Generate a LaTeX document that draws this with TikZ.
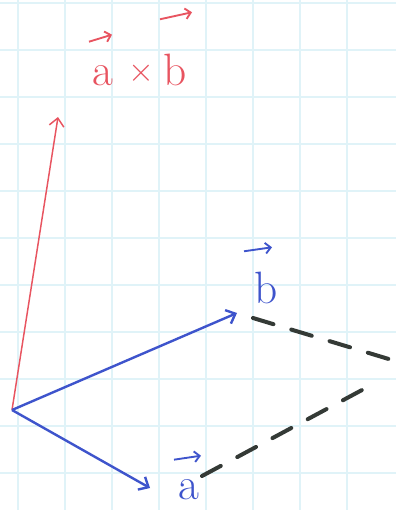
\documentclass[tikz,border=0pt]{standalone}
\usepackage{amsmath, amssymb}
\usepackage{tikz}
\usetikzlibrary{arrows.meta}
\definecolor{gridcyan}{RGB}{224,243,248}
\definecolor{penred}{RGB}{232,84,96}
\definecolor{penblue}{RGB}{62,84,204}
\definecolor{pengray}{RGB}{52,58,54}

\begin{document}
\begin{tikzpicture}[
		    x=0.75pt, y=-0.75pt,
		    gridline/.style={draw=gridcyan, line width=1.4pt},
		    vec/.style={-{Straight Barb[length=6pt, width=11pt]}, line width=1.8pt},
		    hat/.style={-{Straight Barb[length=4pt, width=8pt]}, line width=1.4pt},
		    dashline/.style={draw=pengray, line width=3pt, dash pattern=on 16pt off 14pt, line cap=round},
		    every node/.style={font=\fontsize{34}{40}\selectfont, anchor=base, inner sep=0pt}
		]
		    \useasboundingbox (0,0) rectangle (396,510);
		    \fill[white] (0,0) rectangle (396,510);

		    \foreach \x in {18,65,...,392} {
			\draw[gridline] (\x,0) -- (\x,510);
		    }
		    \foreach \y in {3,50,...,510} {
			\draw[gridline] (0,\y) -- (396,\y);
		    }

		    \coordinate (origin) at (12,410);
		    \coordinate (cross) at (58,117);
		    \coordinate (btip) at (237,313);
		    \coordinate (atip) at (150,488);

		    % labels
		    \node[text=penred] (crossa) at (103,85) {a};
		    \node[text=penred, font=\fontsize{24}{28}\selectfont] (crosstimes) at (141,82) {$\times$};
		    \node[text=penred] (crossb) at (175,85) {b};
		    \node[text=penblue] (blabel) at (266,303) {b};
		    \node[text=penblue] (alabel) at (189,499) {a};

		    \draw[hat, penred] ([shift={(-14,-23)}]crossa.north) -- ([shift={(9,-30)}]crossa.north);
		    \draw[hat, penred] ([shift={(-15,-34)}]crossb.north) -- ([shift={(17,-41)}]crossb.north);
		    \draw[hat, penblue] ([shift={(-22,-20)}]blabel.north) -- ([shift={(6,-24)}]blabel.north);
		    \draw[hat, penblue] ([shift={(-15,-19)}]alabel.north) -- ([shift={(12,-23)}]alabel.north);

		    \draw[vec, penred, line width=1.1pt] (origin) -- (cross);
		    \draw[vec, penblue] (origin) -- (btip);
		    \draw[vec, penblue] (origin) -- (atip);

		    \coordinate (bstart) at (253,318);
		    \coordinate (bend) at (392,360);
		    \coordinate (astart) at (202,476);
		    \coordinate (aend) at (362,390);
		    \draw[dashline] (bstart) -- (bend);
		    \draw[dashline] (astart) -- (aend);
		\end{tikzpicture}
\end{document}
